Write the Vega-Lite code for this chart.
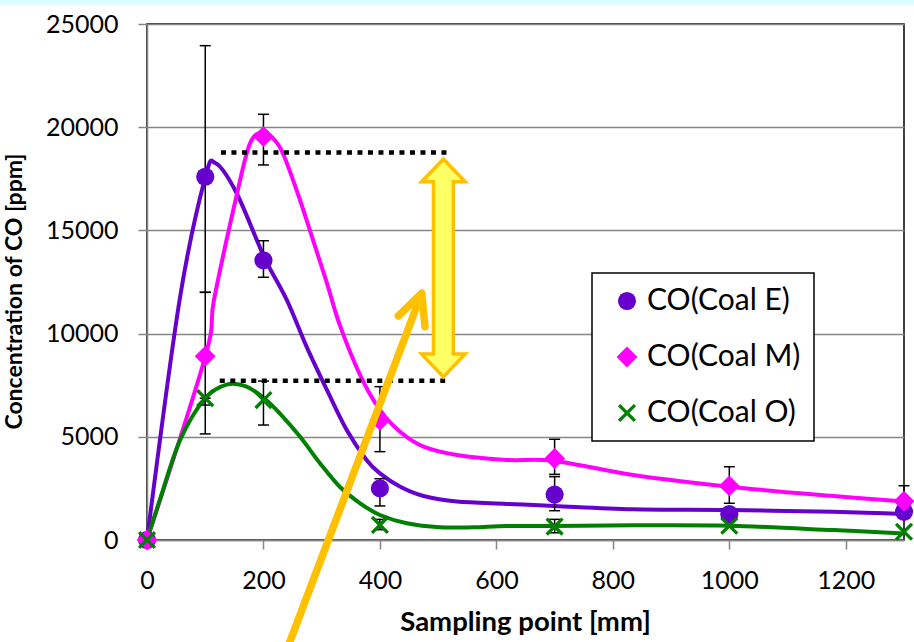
{
  "$schema": "https://vega.github.io/schema/vega-lite/v6.json",
  "width": 757,
  "height": 516,
  "autosize": {"type": "none"},
  "padding": {"left": 147, "top": 24, "right": 10, "bottom": 102},
  "background": "#ffffff",
  "config": {
    "font": "Lato",
    "view": {"stroke": "#000000", "strokeWidth": 1.5},
    "legend": {"strokeWidth": 1.5}
  },
  "datasets": {
    "curves": [
      {"coal": "E", "x": 0, "y": 0},
      {"coal": "E", "x": 56, "y": 11630},
      {"coal": "E", "x": 100, "y": 17570},
      {"coal": "E", "x": 118, "y": 18250},
      {"coal": "E", "x": 154, "y": 16800},
      {"coal": "E", "x": 201, "y": 13720},
      {"coal": "E", "x": 240, "y": 11630},
      {"coal": "E", "x": 274, "y": 9370},
      {"coal": "E", "x": 309, "y": 7270},
      {"coal": "E", "x": 343, "y": 5330},
      {"coal": "E", "x": 377, "y": 3880},
      {"coal": "E", "x": 400, "y": 3230},
      {"coal": "E", "x": 435, "y": 2580},
      {"coal": "E", "x": 475, "y": 2130},
      {"coal": "E", "x": 532, "y": 1860},
      {"coal": "E", "x": 618, "y": 1750},
      {"coal": "E", "x": 700, "y": 1650},
      {"coal": "E", "x": 835, "y": 1490},
      {"coal": "E", "x": 1000, "y": 1450},
      {"coal": "E", "x": 1179, "y": 1370},
      {"coal": "E", "x": 1300, "y": 1260},
      {"coal": "M", "x": 0, "y": 0},
      {"coal": "M", "x": 100, "y": 8880},
      {"coal": "M", "x": 115, "y": 11630},
      {"coal": "M", "x": 154, "y": 16700},
      {"coal": "M", "x": 177, "y": 19220},
      {"coal": "M", "x": 200, "y": 19700},
      {"coal": "M", "x": 228, "y": 19040},
      {"coal": "M", "x": 258, "y": 16860},
      {"coal": "M", "x": 285, "y": 14540},
      {"coal": "M", "x": 309, "y": 12450},
      {"coal": "M", "x": 331, "y": 10420},
      {"coal": "M", "x": 366, "y": 7990},
      {"coal": "M", "x": 400, "y": 6300},
      {"coal": "M", "x": 435, "y": 5230},
      {"coal": "M", "x": 475, "y": 4520},
      {"coal": "M", "x": 532, "y": 4120},
      {"coal": "M", "x": 618, "y": 3880},
      {"coal": "M", "x": 700, "y": 3830},
      {"coal": "M", "x": 835, "y": 3150},
      {"coal": "M", "x": 1000, "y": 2580},
      {"coal": "M", "x": 1179, "y": 2130},
      {"coal": "M", "x": 1300, "y": 1860},
      {"coal": "O", "x": 0, "y": 0},
      {"coal": "O", "x": 22, "y": 1940},
      {"coal": "O", "x": 57, "y": 4850},
      {"coal": "O", "x": 100, "y": 6870},
      {"coal": "O", "x": 138, "y": 7540},
      {"coal": "O", "x": 171, "y": 7430},
      {"coal": "O", "x": 201, "y": 6870},
      {"coal": "O", "x": 228, "y": 6140},
      {"coal": "O", "x": 263, "y": 5000},
      {"coal": "O", "x": 297, "y": 3720},
      {"coal": "O", "x": 331, "y": 2580},
      {"coal": "O", "x": 366, "y": 1780},
      {"coal": "O", "x": 400, "y": 1210},
      {"coal": "O", "x": 446, "y": 810},
      {"coal": "O", "x": 503, "y": 615},
      {"coal": "O", "x": 560, "y": 615},
      {"coal": "O", "x": 618, "y": 680},
      {"coal": "O", "x": 700, "y": 680},
      {"coal": "O", "x": 835, "y": 710},
      {"coal": "O", "x": 1000, "y": 690},
      {"coal": "O", "x": 1179, "y": 480},
      {"coal": "O", "x": 1300, "y": 320}
    ],
    "points": [
      {"series": "CO(Coal E)", "x": 0, "y": 0},
      {"series": "CO(Coal E)", "x": 100, "y": 17600},
      {"series": "CO(Coal E)", "x": 200, "y": 13550},
      {"series": "CO(Coal E)", "x": 400, "y": 2500},
      {"series": "CO(Coal E)", "x": 700, "y": 2200},
      {"series": "CO(Coal E)", "x": 1000, "y": 1250},
      {"series": "CO(Coal E)", "x": 1300, "y": 1370},
      {"series": "CO(Coal M)", "x": 0, "y": 0},
      {"series": "CO(Coal M)", "x": 100, "y": 8900},
      {"series": "CO(Coal M)", "x": 200, "y": 19550},
      {"series": "CO(Coal M)", "x": 400, "y": 5800},
      {"series": "CO(Coal M)", "x": 700, "y": 3950},
      {"series": "CO(Coal M)", "x": 1000, "y": 2620},
      {"series": "CO(Coal M)", "x": 1300, "y": 1880},
      {"series": "CO(Coal O)", "x": 0, "y": 0},
      {"series": "CO(Coal O)", "x": 100, "y": 6870},
      {"series": "CO(Coal O)", "x": 200, "y": 6780},
      {"series": "CO(Coal O)", "x": 400, "y": 730},
      {"series": "CO(Coal O)", "x": 700, "y": 650},
      {"series": "CO(Coal O)", "x": 1000, "y": 690},
      {"series": "CO(Coal O)", "x": 1300, "y": 400}
    ],
    "errors": [
      {"x": 100, "y": 12000, "y2": 23950},
      {"x": 200, "y": 12730, "y2": 14500},
      {"x": 400, "y": 1650, "y2": 2970},
      {"x": 700, "y": 1420, "y2": 3070},
      {"x": 100, "y": 5140, "y2": 12000},
      {"x": 200, "y": 18170, "y2": 20625},
      {"x": 400, "y": 4280, "y2": 7430},
      {"x": 700, "y": 3180, "y2": 4880},
      {"x": 1000, "y": 1780, "y2": 3550},
      {"x": 1300, "y": 1150, "y2": 2630},
      {"x": 100, "y": 6540, "y2": 6870},
      {"x": 200, "y": 5570, "y2": 7700},
      {"x": 400, "y": 500, "y2": 1000},
      {"x": 700, "y": 350, "y2": 1000}
    ],
    "levels": [
      {"x": 127, "x2": 517, "y": 18780},
      {"x": 125, "x2": 512, "y": 7720}
    ],
    "span": [
      {"x": 509, "y": 13180}
    ],
    "pointer": [
      {"part": "shaft", "o": 0, "x": 238.7, "y": -5426},
      {"part": "shaft", "o": 1, "x": 471.8, "y": 11953},
      {"part": "head", "o": 0, "x": 431.6, "y": 10853},
      {"part": "head", "o": 1, "x": 471.8, "y": 11953},
      {"part": "head", "o": 2, "x": 477.4, "y": 10334}
    ],
    "band": [
      {"x": -300, "x2": 1400, "y": 25920, "y2": 27000}
    ]
  },
  "encoding": {
    "x": {
      "field": "x",
      "type": "quantitative",
      "scale": {"domain": [0, 1300], "nice": false, "zero": false},
      "axis": {
        "title": "Sampling point [mm]",
        "values": [0, 200, 400, 600, 800, 1000, 1200],
        "format": "d",
        "grid": false,
        "domainColor": "#868686",
        "domainWidth": 1.5,
        "tickColor": "#868686",
        "tickWidth": 1.5,
        "tickSize": 9,
        "labelFont": "Lato",
        "labelFontSize": 25,
        "labelColor": "#000000",
        "labelBaseline": "alphabetic",
        "labelPadding": 39,
        "labelFlush": false,
        "labelOverlap": false,
        "titleFont": "Lato",
        "titleFontWeight": "bold",
        "titleFontSize": 27.5,
        "titleColor": "#000000",
        "titleBaseline": "alphabetic",
        "titleAlign": "center",
        "titleX": 378,
        "titleY": 90
      }
    },
    "y": {
      "field": "y",
      "type": "quantitative",
      "scale": {"domain": [0, 25000], "nice": false},
      "axis": {
        "title": "Concentration of CO [ppm]",
        "values": [0, 5000, 10000, 15000, 20000, 25000],
        "format": "d",
        "grid": true,
        "gridColor": "#868686",
        "gridWidth": 1.5,
        "domainColor": "#868686",
        "domainWidth": 1.5,
        "tickColor": "#868686",
        "tickWidth": 1.5,
        "tickSize": 9,
        "labelFont": "Lato",
        "labelFontSize": 25,
        "labelColor": "#000000",
        "labelPadding": 20,
        "labelFlush": false,
        "labelOverlap": false,
        "titleFont": "Lato",
        "titleFontWeight": "bold",
        "titleFontSize": 23,
        "titleColor": "#000000",
        "titleAngle": -90,
        "titleAlign": "center",
        "titleBaseline": "alphabetic",
        "titleX": -125.5,
        "titleY": 267
      }
    }
  },
  "layer": [
    {
      "data": {"name": "band"},
      "mark": {"type": "rect", "color": "#DDFDFF", "clip": false},
      "encoding": {
        "x2": {"field": "x2"},
        "y2": {"field": "y2"}
      }
    },
    {
      "data": {"name": "curves"},
      "mark": {"type": "line", "interpolate": "cardinal", "tension": 0, "strokeWidth": 4},
      "encoding": {
        "stroke": {
          "field": "coal",
          "type": "nominal",
          "scale": {"domain": ["E", "M", "O"], "range": ["#6600CC", "#FF00FF", "#008000"]},
          "legend": null
        }
      }
    },
    {
      "data": {"name": "errors"},
      "mark": {"type": "rule", "color": "#000000", "strokeWidth": 1.5},
      "encoding": {
        "y2": {"field": "y2"}
      }
    },
    {
      "data": {"name": "errors"},
      "transform": [{"fold": ["y", "y2"], "as": ["end", "yv"]}],
      "mark": {"type": "point", "shape": "M-1,0L1,0", "size": 121, "filled": false, "stroke": "#000000", "strokeWidth": 1.5, "opacity": 1},
      "encoding": {
        "y": {"field": "yv", "type": "quantitative", "title": "Concentration of CO [ppm]"}
      }
    },
    {
      "data": {"name": "points"},
      "mark": {"type": "point", "filled": true, "size": 330, "opacity": 1},
      "encoding": {
        "color": {
          "field": "series",
          "type": "nominal",
          "scale": {"domain": ["CO(Coal E)", "CO(Coal M)", "CO(Coal O)"], "range": ["#6600CC", "#FF00FF", "#008000"]},
          "legend": {
            "title": null,
            "orient": "none",
            "legendX": 445,
            "legendY": 249,
            "padding": 13,
            "strokeColor": "#000000",
            "fillColor": "#ffffff",
            "labelFont": "Lato",
            "labelFontSize": 30,
            "labelColor": "#000000",
            "symbolSize": 330,
            "symbolStrokeWidth": 0,
            "symbolOffset": 7,
            "labelOffset": 5,
            "rowPadding": 26
          }
        },
        "shape": {
          "field": "series",
          "type": "nominal",
          "scale": {
            "domain": ["CO(Coal E)", "CO(Coal M)", "CO(Coal O)"],
            "range": [
              "circle",
              "M0,-1.15L1.15,0L0,1.15L-1.15,0Z",
              "M-1,-0.743L-0.743,-1L0,-0.257L0.743,-1L1,-0.743L0.257,0L1,0.743L0.743,1L0,0.257L-0.743,1L-1,0.743L-0.257,0Z"
            ]
          },
          "legend": {
            "title": null,
            "orient": "none",
            "legendX": 445,
            "legendY": 249,
            "padding": 13,
            "strokeColor": "#000000",
            "fillColor": "#ffffff",
            "labelFont": "Lato",
            "labelFontSize": 30,
            "labelColor": "#000000",
            "symbolSize": 330,
            "symbolStrokeWidth": 0,
            "symbolOffset": 7,
            "labelOffset": 5,
            "rowPadding": 26
          }
        }
      }
    },
    {
      "data": {"name": "levels"},
      "mark": {"type": "rule", "color": "#000000", "strokeWidth": 4.5, "strokeDash": [5, 5.5], "strokeCap": "butt"},
      "encoding": {
        "x2": {"field": "x2"}
      }
    },
    {
      "data": {"name": "span"},
      "mark": {
        "type": "point",
        "shape": "M0,-1L0.2,-0.79L0.091,-0.79L0.091,0.79L0.2,0.79L0,1L-0.2,0.79L-0.091,0.79L-0.091,-0.79L-0.2,-0.79Z",
        "size": 47524,
        "filled": true,
        "fill": "#FFFF66",
        "stroke": "#FFC000",
        "strokeWidth": 3.5,
        "strokeJoin": "miter",
        "opacity": 1
      },
      "encoding": {}
    },
    {
      "data": {"name": "pointer"},
      "mark": {"type": "line", "color": "#FFC000", "strokeWidth": 7.5, "strokeCap": "round", "strokeJoin": "round", "clip": false},
      "encoding": {
        "detail": {"field": "part"},
        "order": {"field": "o", "type": "quantitative"}
      }
    }
  ]
}
